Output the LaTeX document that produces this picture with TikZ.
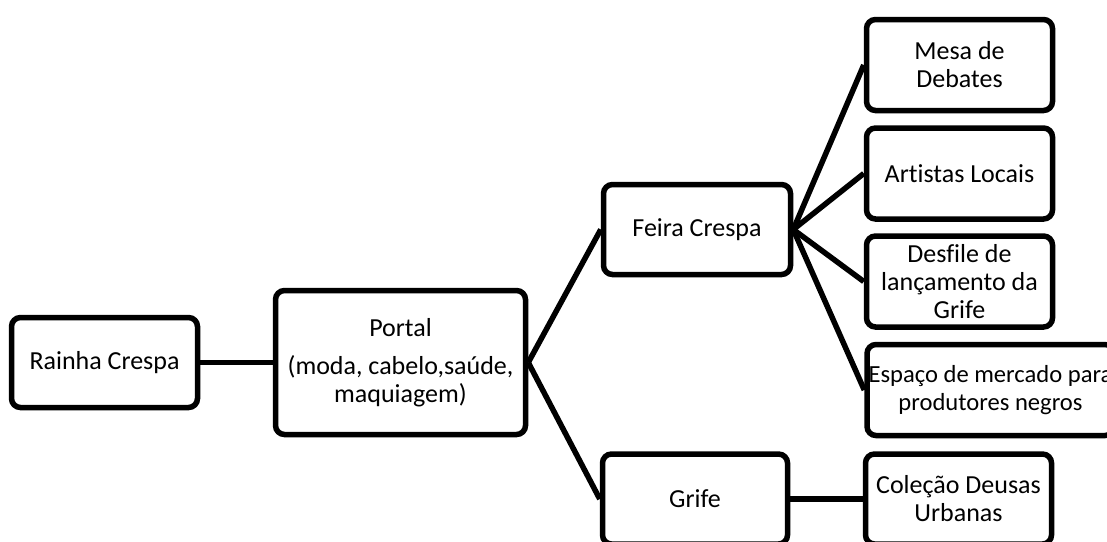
\documentclass[tikz,border=0pt]{standalone}
\usepackage{fontspec}
\setmainfont[Ligatures=NoCommon]{Carlito}
\begin{document}
\begin{tikzpicture}[x=1pt,y=-1pt,
  box/.style={draw=black,line width=5.5pt,rounded corners=9pt,align=center,inner sep=0pt,
    font=\fontsize{26}{28}\selectfont,fill=white},
  link/.style={line width=5.5pt}]
\useasboundingbox (0,0) rectangle (1107,541);
\begin{scope}
\clip (0,0) rectangle (1107,541);
\node[box,minimum width=186pt,minimum height=90pt] (rainha) at (104.5,362.5) {Rainha Crespa};
\node[box,minimum width=250pt,minimum height=144pt] (portal) at (400.5,362.5) {Portal\\[10pt](moda, cabelo,saúde,\\maquiagem)};
\node[box,minimum width=187pt,minimum height=90pt] (feira) at (697,229.5) {Feira Crespa};
\node[box,minimum width=185pt,minimum height=90pt] (grife) at (695,499) {Grife};
\node[box,minimum width=186pt,minimum height=91pt] (mesa) at (959.5,65) {Mesa de\\Debates};
\node[box,minimum width=186pt,minimum height=91pt] (artistas) at (959.5,173.5) {Artistas Locais};
\node[box,minimum width=186pt,minimum height=91pt] (desfile) at (959.5,281.5) {Desfile de\\lançamento da\\Grife};
\node[box,minimum width=247pt,minimum height=91pt,font=\fontsize{24.6}{28}\selectfont] (espaco) at (990.5,390) {Espaço de mercado para\\produtores negros};
\node[box,minimum width=186pt,minimum height=90pt] (colecao) at (958.5,499) {Coleção Deusas\\Urbanas};
\draw[link] (rainha.east) -- (portal.west);
\draw[link] (portal.east) -- (feira.west);
\draw[link] (portal.east) -- (grife.west);
\draw[link] (feira.east) -- (mesa.west);
\draw[link] (feira.east) -- (artistas.west);
\draw[link] (feira.east) -- (desfile.west);
\draw[link] (feira.east) -- (espaco.west);
\draw[link] (grife.east) -- (colecao.west);
\end{scope}
\end{tikzpicture}
\end{document}
